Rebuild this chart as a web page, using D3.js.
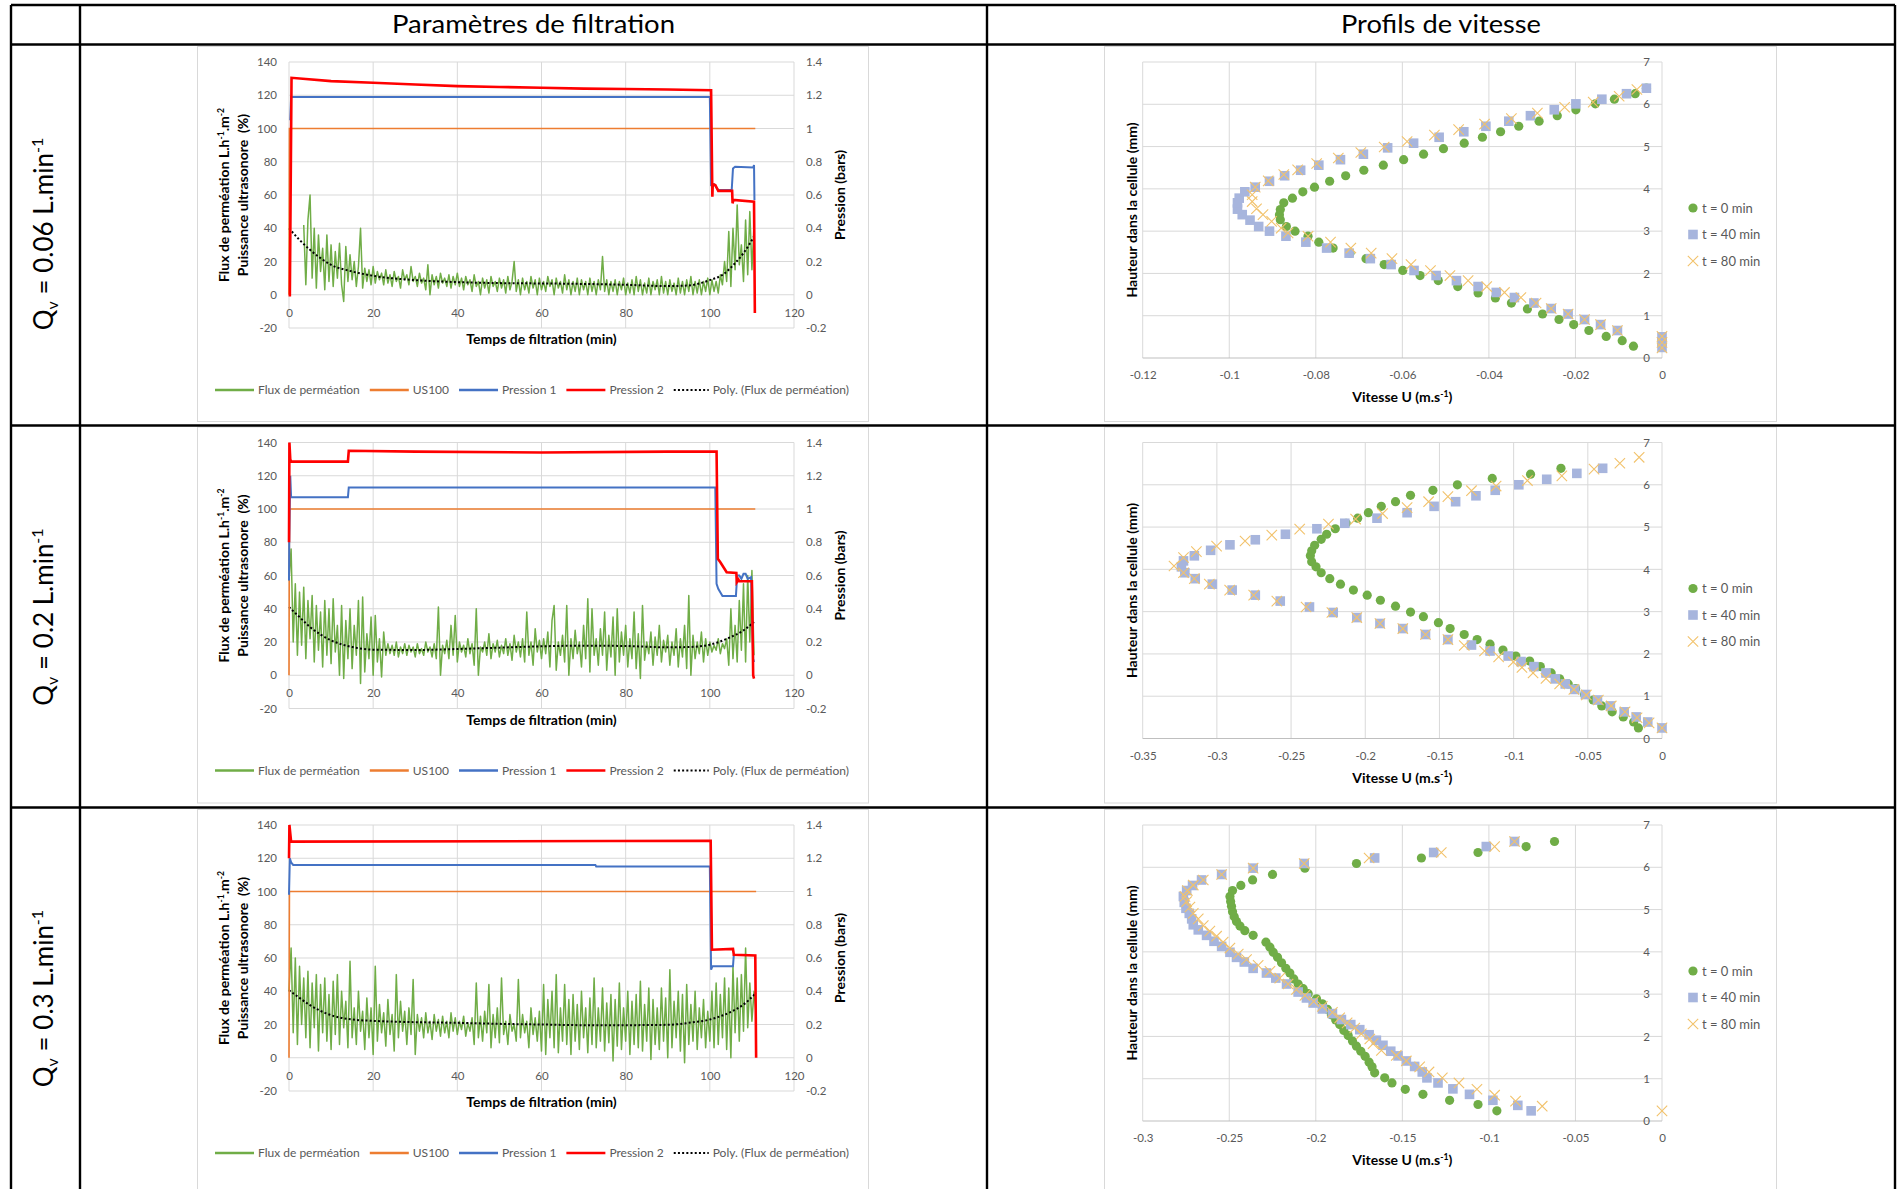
<!DOCTYPE html>
<html><head><meta charset="utf-8">
<script src="https://cdn.jsdelivr.net/npm/d3@7"></script>
<style>
html,body{margin:0;padding:0;background:#fff;}
svg{display:block;}
</style></head><body>
<svg id="fig" width="1899" height="1189"></svg>
<script>
// ---------------- DATA ----------------
const headers = ["Paramètres de filtration", "Profils de vitesse"];
const flowRates = ["0.06", "0.2", "0.3"];

const timeTicks = [0, 20, 40, 60, 80, 100, 120];
const fluxTicks = [-20, 0, 20, 40, 60, 80, 100, 120, 140];
const pressTicks = [-0.2, 0, 0.2, 0.4, 0.6, 0.8, 1, 1.2, 1.4];
const fluxLegend = ["Flux de perméation", "US100", "Pression 1", "Pression 2", "Poly. (Flux de perméation)"];

const heightTicks = [0, 1, 2, 3, 4, 5, 6, 7];
const velTicks1 = [-0.12, -0.1, -0.08, -0.06, -0.04, -0.02, 0];
const velTicks2 = [-0.35, -0.3, -0.25, -0.2, -0.15, -0.1, -0.05, 0];
const velTicks3 = [-0.3, -0.25, -0.2, -0.15, -0.1, -0.05, 0];
const velLegend = ["t = 0 min", "t = 40 min", "t = 80 min"];

// permeate flux (L.h-1.m-2), one reading every 0.5 min
const sampleStep = 0.5;
const flux1Start = 3.5;
const flux1 = [
 42,6,45,60,10,40,4,36,14,28,
 3,36,8,30,5,26,10,31,6,-4,
 29,8,24,9,20,5,17,40,4,16,
 8,15,6,17,7,14,9,13,6,15,
 7,12,5,14,8,11,4,15,9,12,
 6,17,8,11,5,13,7,10,3,18,
 0,12,6,11,4,13,7,10,5,12,
 4,11,6,13,5,10,3,11,6,9,
 2,12,5,8,0,10,4,9,1,11,
 5,8,2,10,4,9,1,11,3,8,
 20,2,9,0,10,3,8,1,11,4,
 9,0,10,3,8,2,11,5,9,0,
 10,4,8,1,12,3,9,0,8,2,
 10,0,9,3,8,0,10,2,8,0,
 9,3,23,2,9,0,8,2,9,0,
 8,3,10,0,7,1,9,0,11,2,
 9,0,7,1,10,0,8,3,9,0,
 11,1,8,0,9,2,7,0,10,1,
 8,0,9,2,11,0,8,1,9,0,
 8,2,10,0,9,2,8,1,12,6,
 20,8,38,5,40,15,54,18,30,8,
 45,12,50,15,42];
const flux2Start = 0;
const flux2 = [
 57,76,20,55,12,50,18,53,10,45,
 22,48,8,42,15,38,5,45,12,40,
 7,46,14,30,0,42,-2,33,10,40,
 4,30,12,45,-5,47,2,25,10,35,
 0,36,8,22,-1,26,12,19,13,18,
 12,20,11,17,13,19,12,18,14,17,
 11,19,13,16,12,20,14,17,11,19,
 10,41,0,18,13,21,10,30,12,36,
 8,20,14,18,11,22,13,19,6,40,
 0,17,14,20,12,25,10,19,14,21,
 11,18,13,22,12,19,9,24,14,20,
 11,22,8,38,12,20,6,28,14,21,
 10,22,13,26,5,33,42,3,20,12,
 24,8,42,0,22,10,27,13,20,5,
 30,10,46,2,40,12,22,6,28,12,
 38,3,24,11,35,0,40,8,26,12,
 30,5,22,10,38,4,25,-2,42,9,
 20,13,26,6,23,12,30,8,21,14,
 24,6,20,12,28,5,22,11,30,4,
 48,0,24,10,20,13,26,8,22,12,
 20,14,18,15,22,13,19,16,22,6,
 40,10,30,8,45,15,55,8,60,20,
 63,12];
const flux3Start = 0;
const flux3 = [
 40,66,15,60,8,55,20,48,12,52,
 6,45,18,50,4,44,15,48,10,38,
 5,46,14,50,8,40,18,34,6,58,
 12,30,8,40,16,28,5,36,12,30,
 2,55,10,32,15,27,7,35,14,26,
 4,50,12,34,16,28,8,30,14,47,
 2,26,16,24,12,27,15,22,11,26,
 16,23,13,25,15,22,12,27,16,24,
 14,22,17,25,13,21,16,24,8,45,
 12,25,10,28,15,44,6,26,12,30,
 9,48,14,22,8,26,16,20,10,47,
 12,26,15,22,6,30,14,24,10,28,
 4,44,2,35,12,40,6,50,3,30,
 10,44,8,35,2,38,10,32,5,40,
 12,30,3,36,8,48,6,30,10,42,
 4,33,9,38,-2,35,7,45,5,30,
 10,40,2,34,8,38,6,46,4,32,
 10,42,-1,35,8,30,5,42,10,36,
 0,53,6,34,12,40,4,38,-3,44,
 8,32,10,40,5,30,12,35,6,28,
 10,40,6,45,8,38,12,48,5,42,
 0,55,15,48,10,50,16,66,18,45,
 22,40,26];

// ultrasound power (%) [time, value]
const us100_1 = [[0,0],[0.1,100],[110.8,100]];
const us100_2 = [[0,0],[0.1,100],[110.8,100]];
const us100_3 = [[0,0],[0.1,100],[111,100]];

// pressures (bar) [time, value]
const press1_1 = [[0.3,1.05],[0.5,1.19],[100,1.19],[100.3,0.66],[101,0.665],[102,0.63],[105.2,0.63],[105.5,0.76],[106,0.77],[110.3,0.765],[110.5,0.78],[110.6,0.57]];
const press2_1 = [[0.2,-0.01],[0.6,1.305],[10,1.285],[20,1.275],[30,1.265],[40,1.255],[50,1.25],[60,1.245],[70,1.24],[80,1.238],[90,1.235],[100.3,1.23],[100.6,0.59],[100.7,0.665],[101.3,0.66],[102,0.625],[105.3,0.625],[105.4,0.55],[105.6,0.57],[110.5,0.56],[110.7,-0.11]];
const press1_2 = [[0,0.57],[0.05,0.8],[0.3,1.2],[0.5,1.07],[14,1.07],[14.2,1.13],[101.3,1.13],[101.6,0.55],[102,0.52],[103,0.476],[106.2,0.476],[106.5,0.6],[107,0.6],[107.5,0.58],[108,0.61],[108.5,0.61],[109,0.58],[109.8,0.59],[110.3,0.1],[110.5,0.08]];
const press2_2 = [[0,0.8],[0.1,1.4],[0.3,1.3],[0.5,1.285],[14,1.285],[14.2,1.35],[30,1.345],[60,1.34],[90,1.345],[101.6,1.345],[101.9,0.7],[102.5,0.68],[104,0.62],[106.3,0.615],[106.4,0.56],[106.8,0.575],[107,0.565],[110,0.565],[110.3,0.0],[110.5,-0.02]];
const press1_3 = [[0,0.98],[0.2,1.2],[0.5,1.175],[1,1.16],[72.8,1.16],[73,1.15],[100,1.15],[100.3,0.53],[100.6,0.55],[105.5,0.55],[105.7,0.62]];
const press2_3 = [[0,1.2],[0.1,1.4],[0.5,1.3],[100.2,1.305],[100.5,0.65],[105.5,0.655],[105.7,0.62],[110.8,0.615],[111,0.0]];

// polynomial trend of the flux [time, value]
const poly1 = [[0,40],[2.5,33],[5,27],[7.5,22],[10,18],[15,14],[20,11.4],[30,8.8],[40,7.6],[50,7],[60,6.8],[70,6.5],[80,6],[90,5.2],[95,5.6],[100,8.8],[103,12],[106,19],[108,25],[110.5,35]];
const poly2 = [[0,41],[2.5,35],[5,29],[7.5,24.5],[10,21],[15,17],[20,15.4],[30,15.2],[40,15.8],[50,16.6],[60,17.4],[70,17.8],[80,17.6],[90,16.8],[95,17],[100,18.4],[105,23],[108,27],[110.5,32]];
const poly3 = [[0,40.6],[2.5,36],[5,31.6],[7.5,28.2],[10,25.6],[15,23],[20,22.2],[30,21.4],[40,21],[50,20.4],[60,20],[70,19.6],[80,19.6],[90,19.8],[95,21],[100,23],[105,27.6],[108,32],[111,39]];

// velocity profiles [U (m/s), height (mm)]
const vel1_t0 = [[-0.0066,0.28],[-0.0092,0.41],[-0.0129,0.51],[-0.0169,0.65],[-0.0204,0.79],[-0.0238,0.91],[-0.0276,1.04],[-0.0311,1.16],[-0.0348,1.30],[-0.0385,1.42],[-0.0425,1.54],[-0.0472,1.69],[-0.0517,1.83],[-0.0559,1.95],[-0.0599,2.07],[-0.0642,2.21],[-0.0684,2.35],[-0.0721,2.48],[-0.0760,2.60],[-0.0793,2.74],[-0.0818,2.88],[-0.0848,3.00],[-0.0868,3.11],[-0.0882,3.27],[-0.0884,3.39],[-0.0882,3.51],[-0.0874,3.67],[-0.0854,3.78],[-0.0830,3.93],[-0.0803,4.04],[-0.0768,4.18],[-0.0731,4.31],[-0.0689,4.44],[-0.0644,4.56],[-0.0597,4.69],[-0.0551,4.82],[-0.0505,4.95],[-0.0457,5.08],[-0.0415,5.22],[-0.0373,5.35],[-0.0331,5.48],[-0.0284,5.60],[-0.0242,5.73],[-0.0199,5.87],[-0.0154,6.01],[-0.0110,6.12],[-0.0062,6.25],[-0.0036,6.38]];
const vel1_t40 = [[0,0.25],[0,0.38],[0,0.5],[-0.0103,0.65],[-0.0142,0.79],[-0.0179,0.91],[-0.0217,1.04],[-0.0256,1.17],[-0.0296,1.30],[-0.0341,1.43],[-0.0383,1.55],[-0.0425,1.69],[-0.0475,1.83],[-0.0522,1.95],[-0.0573,2.07],[-0.0626,2.21],[-0.0674,2.35],[-0.0723,2.48],[-0.0775,2.60],[-0.0823,2.74],[-0.0869,2.88],[-0.0907,3.00],[-0.0932,3.11],[-0.0952,3.26],[-0.0970,3.39],[-0.0981,3.52],[-0.0981,3.67],[-0.0977,3.78],[-0.0964,3.93],[-0.0940,4.04],[-0.0907,4.18],[-0.0872,4.31],[-0.0835,4.44],[-0.0793,4.56],[-0.0743,4.69],[-0.0690,4.82],[-0.0634,4.97],[-0.0574,5.08],[-0.0515,5.22],[-0.0458,5.35],[-0.0407,5.48],[-0.0354,5.60],[-0.0304,5.73],[-0.0249,5.87],[-0.0199,6.01],[-0.0139,6.12],[-0.0082,6.25],[-0.0036,6.38]];
const vel1_t80 = [[0,0.24],[0,0.37],[0,0.51],[-0.0103,0.65],[-0.0142,0.79],[-0.0179,0.91],[-0.0217,1.04],[-0.0256,1.17],[-0.0291,1.30],[-0.0326,1.43],[-0.0364,1.55],[-0.0405,1.69],[-0.0448,1.83],[-0.0490,1.95],[-0.0535,2.07],[-0.0580,2.21],[-0.0624,2.35],[-0.0672,2.48],[-0.0719,2.60],[-0.0766,2.74],[-0.0818,2.88],[-0.0864,2.96],[-0.0880,3.07],[-0.0902,3.23],[-0.0922,3.39],[-0.0937,3.53],[-0.0947,3.70],[-0.0947,3.86],[-0.0940,4.04],[-0.0910,4.19],[-0.0874,4.34],[-0.0842,4.45],[-0.0798,4.60],[-0.0748,4.73],[-0.0696,4.86],[-0.0642,4.99],[-0.0589,5.12],[-0.0526,5.27],[-0.0470,5.40],[-0.0410,5.53],[-0.0348,5.66],[-0.0288,5.79],[-0.0225,5.93],[-0.0159,6.05],[-0.0099,6.19],[-0.0058,6.35]];

const vel2_t0 = [[-0.0159,0.25],[-0.0191,0.39],[-0.0261,0.51],[-0.0336,0.63],[-0.0406,0.77],[-0.0464,0.91],[-0.0522,1.04],[-0.0582,1.18],[-0.0632,1.29],[-0.0690,1.41],[-0.0747,1.55],[-0.0820,1.70],[-0.0892,1.83],[-0.0985,1.95],[-0.1072,2.09],[-0.1159,2.23],[-0.1246,2.34],[-0.1333,2.46],[-0.1428,2.60],[-0.1507,2.74],[-0.1608,2.88],[-0.1695,2.99],[-0.1796,3.13],[-0.1898,3.27],[-0.1987,3.39],[-0.2080,3.51],[-0.2167,3.65],[-0.2239,3.78],[-0.2297,3.92],[-0.2332,4.06],[-0.2361,4.18],[-0.2370,4.32],[-0.2361,4.44],[-0.2341,4.57],[-0.2297,4.71],[-0.2260,4.83],[-0.2202,4.96],[-0.2129,5.09],[-0.2051,5.21],[-0.1979,5.34],[-0.1892,5.49],[-0.1796,5.60],[-0.1695,5.75],[-0.1544,5.87],[-0.1379,6.00],[-0.1144,6.15],[-0.0886,6.25],[-0.0681,6.39]];
const vel2_t40 = [[0,0.25],[-0.0096,0.39],[-0.0174,0.51],[-0.0255,0.63],[-0.0348,0.77],[-0.0435,0.91],[-0.0516,1.04],[-0.0588,1.16],[-0.0652,1.29],[-0.0719,1.41],[-0.0782,1.55],[-0.0863,1.70],[-0.0950,1.82],[-0.1037,1.95],[-0.1159,2.07],[-0.1284,2.21],[-0.1443,2.34],[-0.1594,2.46],[-0.1747,2.60],[-0.1901,2.72],[-0.2057,2.86],[-0.2216,2.98],[-0.2376,3.11],[-0.2573,3.25],[-0.2741,3.39],[-0.2897,3.51],[-0.3031,3.65],[-0.3146,3.78],[-0.3216,3.92],[-0.3239,4.06],[-0.3225,4.20],[-0.3152,4.32],[-0.3042,4.45],[-0.2912,4.58],[-0.2741,4.70],[-0.2538,4.83],[-0.2326,4.96],[-0.2138,5.09],[-0.1921,5.21],[-0.1718,5.34],[-0.1536,5.49],[-0.1391,5.60],[-0.1254,5.74],[-0.1124,5.87],[-0.0965,6.00],[-0.0777,6.13],[-0.0574,6.27],[-0.0400,6.39]];
const vel2_t80 = [[0,0.25],[-0.0087,0.37],[-0.0168,0.49],[-0.0249,0.63],[-0.0342,0.77],[-0.0429,0.91],[-0.0510,1.03],[-0.0594,1.16],[-0.0690,1.29],[-0.0782,1.42],[-0.0869,1.55],[-0.0944,1.68],[-0.1002,1.81],[-0.1101,1.93],[-0.1196,2.07],[-0.1333,2.20],[-0.1443,2.34],[-0.1594,2.46],[-0.1747,2.60],[-0.1901,2.72],[-0.2057,2.86],[-0.2225,2.98],[-0.2399,3.11],[-0.2596,3.25],[-0.2752,3.39],[-0.2914,3.51],[-0.3051,3.65],[-0.3152,3.78],[-0.3225,3.92],[-0.3289,4.08],[-0.3225,4.28],[-0.3138,4.42],[-0.3002,4.55],[-0.2810,4.67],[-0.2630,4.81],[-0.2442,4.95],[-0.2248,5.07],[-0.2065,5.19],[-0.1883,5.32],[-0.1718,5.46],[-0.1573,5.60],[-0.1443,5.72],[-0.1284,5.86],[-0.1118,5.97],[-0.0907,6.10],[-0.0675,6.21],[-0.0458,6.37],[-0.0284,6.51],[-0.0154,6.65]];

const vel3_t0 = [[-0.0954,0.24],[-0.1063,0.39],[-0.1227,0.49],[-0.1381,0.63],[-0.1483,0.75],[-0.1560,0.90],[-0.1602,1.02],[-0.1660,1.14],[-0.1675,1.28],[-0.1692,1.39],[-0.1715,1.53],[-0.1740,1.65],[-0.1765,1.77],[-0.1788,1.89],[-0.1813,2.02],[-0.1838,2.14],[-0.1862,2.28],[-0.1885,2.39],[-0.1910,2.51],[-0.1933,2.64],[-0.1962,2.77],[-0.1996,2.89],[-0.2044,3.01],[-0.2073,3.13],[-0.2102,3.24],[-0.2127,3.36],[-0.2150,3.50],[-0.2173,3.61],[-0.2198,3.74],[-0.2221,3.87],[-0.2246,3.99],[-0.2265,4.11],[-0.2288,4.23],[-0.2362,4.39],[-0.2410,4.50],[-0.2438,4.61],[-0.2458,4.72],[-0.2471,4.83],[-0.2481,4.95],[-0.2487,5.08],[-0.2492,5.19],[-0.2496,5.31],[-0.2481,5.45],[-0.2433,5.57],[-0.2365,5.70],[-0.2250,5.83],[-0.2063,5.98],[-0.1765,6.09],[-0.1390,6.22],[-0.1063,6.35],[-0.0785,6.49],[-0.0621,6.61]];
const vel3_t40 = [[-0.0756,0.24],[-0.0833,0.37],[-0.0977,0.49],[-0.1112,0.63],[-0.1208,0.76],[-0.1294,0.90],[-0.1358,1.02],[-0.1385,1.16],[-0.1429,1.29],[-0.1477,1.42],[-0.1525,1.54],[-0.1567,1.65],[-0.1612,1.79],[-0.1650,1.91],[-0.1692,2.04],[-0.1746,2.16],[-0.1798,2.28],[-0.1852,2.40],[-0.1904,2.54],[-0.1962,2.65],[-0.2015,2.79],[-0.2054,2.91],[-0.2102,3.05],[-0.2169,3.24],[-0.2231,3.38],[-0.2285,3.50],[-0.2362,3.61],[-0.2413,3.76],[-0.2458,3.87],[-0.2496,3.99],[-0.2544,4.13],[-0.2588,4.25],[-0.2631,4.39],[-0.2679,4.52],[-0.2708,4.64],[-0.2717,4.78],[-0.2731,4.91],[-0.2750,5.03],[-0.2760,5.17],[-0.2765,5.31],[-0.2746,5.45],[-0.2712,5.57],[-0.2660,5.70],[-0.2544,5.83],[-0.2362,5.98],[-0.2067,6.09],[-0.1660,6.22],[-0.1319,6.35],[-0.1015,6.49],[-0.0852,6.61]];
const vel3_t80 = [[0,0.24],[-0.0692,0.35],[-0.0846,0.47],[-0.0967,0.61],[-0.1069,0.75],[-0.1173,0.90],[-0.1269,1.02],[-0.1346,1.16],[-0.1400,1.28],[-0.1477,1.42],[-0.1535,1.55],[-0.1621,1.67],[-0.1669,1.83],[-0.1688,1.94],[-0.1737,2.06],[-0.1775,2.20],[-0.1819,2.32],[-0.1862,2.44],[-0.1904,2.57],[-0.1962,2.71],[-0.2012,2.83],[-0.2063,2.97],[-0.2112,3.11],[-0.2160,3.24],[-0.2208,3.38],[-0.2265,3.54],[-0.2333,3.68],[-0.2400,3.82],[-0.2448,3.95],[-0.2496,4.09],[-0.2535,4.23],[-0.2573,4.37],[-0.2612,4.49],[-0.2650,4.62],[-0.2679,4.78],[-0.2708,4.91],[-0.2727,5.06],[-0.2746,5.19],[-0.2756,5.31],[-0.2742,5.45],[-0.2708,5.58],[-0.2650,5.70],[-0.2544,5.83],[-0.2362,5.98],[-0.2067,6.09],[-0.1692,6.22],[-0.1275,6.35],[-0.0967,6.49],[-0.0852,6.61]];

// ---------------- DRAWING ----------------
const FONT = "Lato, 'Liberation Sans', sans-serif";
const COL = {green:"#70ad47", orange:"#ed7d31", blue:"#4472c4", red:"#ff0000",
             grid:"#d9d9d9", tick:"#595959", sq:"#a7b5dd", cross:"#f2c26b", frame:"#d9d9d9"};
const TITLE_SIZE = 14;
const TICK_SIZE = 11.5;

const svg = d3.select("#fig").attr("font-family", FONT);
svg.append("rect").attr("width", 1899).attr("height", 1189).attr("fill", "#fff");

function rich(text, parts, size) {
  let cur = 0;
  parts.forEach(p => {
    const off = p.s === "sup" ? -size * 0.38 : (p.s === "sub" ? size * 0.18 : 0);
    const ts = text.append("tspan").text(p.t).attr("dy", off - cur);
    if (p.s) ts.attr("font-size", size * 0.62);
    cur = off;
  });
}

function styleAxis(gAx, size) {
  gAx.select(".domain").remove();
  gAx.selectAll("line").remove();
  gAx.selectAll("text").attr("fill", COL.tick).attr("font-size", size).attr("font-family", FONT);
  gAx.attr("font-family", FONT);
}

const fmt = d => String(+(+d).toFixed(3));

// ---------- filtration charts ----------
const filtRows = [
  {top: 46,    h: 375, flux: flux1, start: flux1Start, us: us100_1, p1: press1_1, p2: press2_1, poly: poly1},
  {top: 426.5, h: 376, flux: flux2, start: flux2Start, us: us100_2, p1: press1_2, p2: press2_2, poly: poly2},
  {top: 809,   h: 390, flux: flux3, start: flux3Start, us: us100_3, p1: press1_3, p2: press2_3, poly: poly3}
];

filtRows.forEach(row => {
  const g = svg.append("g").attr("transform", `translate(197,${row.top})`);
  g.append("rect").attr("x", 0.5).attr("y", 0.5).attr("width", 671).attr("height", row.h)
    .attr("fill", "#fff").attr("stroke", COL.frame);
  const x = d3.scaleLinear().domain([0, 120]).range([92, 597]);
  const y = d3.scaleLinear().domain([-20, 140]).range([282, 16]);
  const yR = d3.scaleLinear().domain([-0.2, 1.4]).range([282, 16]);

  g.append("g").selectAll("line").data(fluxTicks).join("line")
    .attr("x1", x(0)).attr("x2", x(120)).attr("y1", d => y(d)).attr("y2", d => y(d))
    .attr("stroke", COL.grid).attr("stroke-width", 1);
  g.append("g").selectAll("line").data(timeTicks).join("line")
    .attr("x1", d => x(d)).attr("x2", d => x(d)).attr("y1", y(140)).attr("y2", y(-20))
    .attr("stroke", COL.grid).attr("stroke-width", 1);

  styleAxis(g.append("g").attr("transform", `translate(${x(0)},0)`)
    .call(d3.axisLeft(y).tickValues(fluxTicks).tickSize(0).tickPadding(12).tickFormat(fmt)), TICK_SIZE);
  styleAxis(g.append("g").attr("transform", `translate(${x(120)},0)`)
    .call(d3.axisRight(yR).tickValues(pressTicks).tickSize(0).tickPadding(12).tickFormat(fmt)), TICK_SIZE);
  styleAxis(g.append("g").attr("transform", `translate(0,${y(0)})`)
    .call(d3.axisBottom(x).tickValues(timeTicks).tickSize(0).tickPadding(14).tickFormat(fmt)), TICK_SIZE);

  const fluxPts = row.flux.map((v, i) => [row.start + i * sampleStep, v]);
  const line = d3.line().x(d => x(d[0])).y(d => y(d[1]));
  const lineR = d3.line().x(d => x(d[0])).y(d => yR(d[1]));
  const lineP = d3.line().x(d => x(d[0])).y(d => y(d[1])).curve(d3.curveMonotoneX);

  g.append("path").attr("d", line(fluxPts)).attr("fill", "none").attr("stroke", COL.green)
    .attr("stroke-width", 1.5).attr("stroke-linejoin", "round");
  g.append("path").attr("d", lineP(row.poly)).attr("fill", "none").attr("stroke", "#000")
    .attr("stroke-width", 2).attr("stroke-dasharray", "2,2.2");
  g.append("path").attr("d", line(row.us)).attr("fill", "none").attr("stroke", COL.orange).attr("stroke-width", 1.6);
  g.append("path").attr("d", lineR(row.p1)).attr("fill", "none").attr("stroke", COL.blue).attr("stroke-width", 2);
  g.append("path").attr("d", lineR(row.p2)).attr("fill", "none").attr("stroke", COL.red).attr("stroke-width", 2.6);

  // axis titles
  g.append("text").attr("x", (x(0) + x(120)) / 2).attr("y", 298).attr("text-anchor", "middle")
    .attr("font-weight", "bold").attr("font-size", TITLE_SIZE).attr("fill", "#000").text("Temps de filtration (min)");
  const cy = (y(140) + y(-20)) / 2;
  const t1 = g.append("text").attr("transform", `translate(32,${cy}) rotate(-90)`).attr("text-anchor", "middle")
    .attr("font-weight", "bold").attr("font-size", TITLE_SIZE).attr("fill", "#000");
  rich(t1, [{t: "Flux de perméation L.h"}, {t: "-1", s: "sup"}, {t: ".m"}, {t: "-2", s: "sup"}], TITLE_SIZE);
  g.append("text").attr("transform", `translate(51,${cy}) rotate(-90)`).attr("text-anchor", "middle")
    .attr("font-weight", "bold").attr("font-size", TITLE_SIZE).attr("fill", "#000").text("Puissance ultrasonore\u00a0\u00a0(%)");
  g.append("text").attr("transform", `translate(648,${cy}) rotate(-90)`).attr("text-anchor", "middle")
    .attr("font-weight", "bold").attr("font-size", TITLE_SIZE).attr("fill", "#000").text("Pression (bars)");

  // legend
  const lg = g.append("g").attr("transform", "translate(0,344)");
  const styles = [
    {c: COL.green, w: 2.5}, {c: COL.orange, w: 2.5}, {c: COL.blue, w: 2.5}, {c: COL.red, w: 2.5}, {c: "#000", w: 2, dash: "2,2.2"}
  ];
  let lx = 18;
  fluxLegend.forEach((lab, i) => {
    const len = i === 4 ? 35 : 39;
    const s = styles[i];
    const ln = lg.append("line").attr("x1", lx).attr("x2", lx + len).attr("y1", 0).attr("y2", 0)
      .attr("stroke", s.c).attr("stroke-width", s.w);
    if (s.dash) ln.attr("stroke-dasharray", s.dash);
    const tx = lg.append("text").attr("x", lx + len + 4).attr("y", 0).attr("dy", "0.35em")
      .attr("font-size", 12).attr("fill", COL.tick).text(lab);
    lx = lx + len + 4 + tx.node().getComputedTextLength() + 10;
  });
});

// ---------- velocity charts ----------
const velRows = [
  {top: 46,    h: 375, ticks: velTicks1, t0: vel1_t0, t40: vel1_t40, t80: vel1_t80},
  {top: 426.5, h: 376, ticks: velTicks2, t0: vel2_t0, t40: vel2_t40, t80: vel2_t80},
  {top: 809,   h: 390, ticks: velTicks3, t0: vel3_t0, t40: vel3_t40, t80: vel3_t80}
];

function crossPath(s) { return `M${-s},${-s}L${s},${s}M${-s},${s}L${s},${-s}`; }

velRows.forEach(row => {
  const g = svg.append("g").attr("transform", `translate(1104,${row.top})`);
  g.append("rect").attr("x", 0.5).attr("y", 0.5).attr("width", 672).attr("height", row.h)
    .attr("fill", "#fff").attr("stroke", COL.frame);
  const xmin = d3.min(row.ticks);
  const x = d3.scaleLinear().domain([xmin, 0]).range([38.7, 558]);
  const y = d3.scaleLinear().domain([0, 7]).range([312, 16]);

  g.append("g").selectAll("line").data(row.ticks).join("line")
    .attr("x1", d => x(d)).attr("x2", d => x(d)).attr("y1", y(7)).attr("y2", y(0))
    .attr("stroke", COL.grid).attr("stroke-width", 1);
  g.append("g").selectAll("line").data(heightTicks).join("line")
    .attr("x1", x(xmin)).attr("x2", x(0)).attr("y1", d => y(d)).attr("y2", d => y(d))
    .attr("stroke", d => d === 0 ? "#bfbfbf" : COL.grid).attr("stroke-width", 1);

  styleAxis(g.append("g").attr("transform", `translate(${x(0)},0)`)
    .call(d3.axisLeft(y).tickValues(heightTicks).tickSize(0).tickPadding(12).tickFormat(fmt)), TICK_SIZE);
  styleAxis(g.append("g").attr("transform", `translate(0,${y(0)})`)
    .call(d3.axisBottom(x).tickValues(row.ticks).tickSize(0).tickPadding(13).tickFormat(fmt)), TICK_SIZE);

  g.append("g").selectAll("circle").data(row.t0).join("circle")
    .attr("cx", d => x(d[0])).attr("cy", d => y(d[1])).attr("r", 4.6).attr("fill", COL.green);
  g.append("g").selectAll("rect").data(row.t40).join("rect")
    .attr("x", d => x(d[0]) - 4.8).attr("y", d => y(d[1]) - 4.8).attr("width", 9.6).attr("height", 9.6)
    .attr("fill", COL.sq);
  g.append("g").selectAll("path").data(row.t80).join("path")
    .attr("transform", d => `translate(${x(d[0])},${y(d[1])})`).attr("d", crossPath(5.2))
    .attr("stroke", COL.cross).attr("stroke-width", 1.1).attr("fill", "none");

  // titles
  const xt = g.append("text").attr("x", (x(xmin) + x(0)) / 2).attr("y", 356).attr("text-anchor", "middle")
    .attr("font-weight", "bold").attr("font-size", TITLE_SIZE).attr("fill", "#000");
  rich(xt, [{t: "Vitesse U (m.s"}, {t: "-1", s: "sup"}, {t: ")"}], TITLE_SIZE);
  g.append("text").attr("transform", `translate(33,${(y(0) + y(7)) / 2}) rotate(-90)`).attr("text-anchor", "middle")
    .attr("font-weight", "bold").attr("font-size", TITLE_SIZE).attr("fill", "#000").text("Hauteur dans la cellule (mm)");

  // legend
  const ly = [162, 188.5, 215];
  const lg = g.append("g");
  lg.append("circle").attr("cx", 589).attr("cy", ly[0]).attr("r", 4.6).attr("fill", COL.green);
  lg.append("rect").attr("x", 589 - 4.8).attr("y", ly[1] - 4.8).attr("width", 9.6).attr("height", 9.6).attr("fill", COL.sq);
  lg.append("path").attr("transform", `translate(589,${ly[2]})`).attr("d", crossPath(5.2))
    .attr("stroke", COL.cross).attr("stroke-width", 1.1).attr("fill", "none");
  velLegend.forEach((lab, i) => {
    lg.append("text").attr("x", 598).attr("y", ly[i]).attr("dy", "0.35em").attr("font-size", 13)
      .attr("fill", COL.tick).text(lab);
  });
});

// ---------- table ----------
const tbl = svg.append("g").attr("stroke", "#000").attr("stroke-width", 2.4);
const hLines = [5, 44.5, 425.5, 807.5];
const vLines = [11, 80, 987, 1895];
tbl.selectAll("line.h").data(hLines).join("line").attr("class", "h")
  .attr("x1", 11).attr("x2", 1895).attr("y1", d => d).attr("y2", d => d);
tbl.selectAll("line.v").data(vLines).join("line").attr("class", "v")
  .attr("x1", d => d).attr("x2", d => d).attr("y1", 5).attr("y2", 1189);

// header texts
const headerX = [533.5, 1441];
const headerW = [283, 200];
headers.forEach((h, i) => {
  svg.append("text").attr("x", headerX[i]).attr("y", 33).attr("text-anchor", "middle")
    .attr("font-size", 25).attr("fill", "#000")
    .attr("textLength", headerW[i]).attr("lengthAdjust", "spacingAndGlyphs").text(h);
});

// row labels
const rowCenters = [234, 617, 998.5];
flowRates.forEach((q, i) => {
  const t = svg.append("text").attr("transform", `translate(53,${rowCenters[i]}) rotate(-90)`)
    .attr("text-anchor", "middle").attr("font-size", 26).attr("fill", "#000");
  rich(t, [{t: "Q"}, {t: "v", s: "sub"}, {t: " = " + q + " L.min"}, {t: "-1", s: "sup"}], 26);
});
</script>
</body></html>
